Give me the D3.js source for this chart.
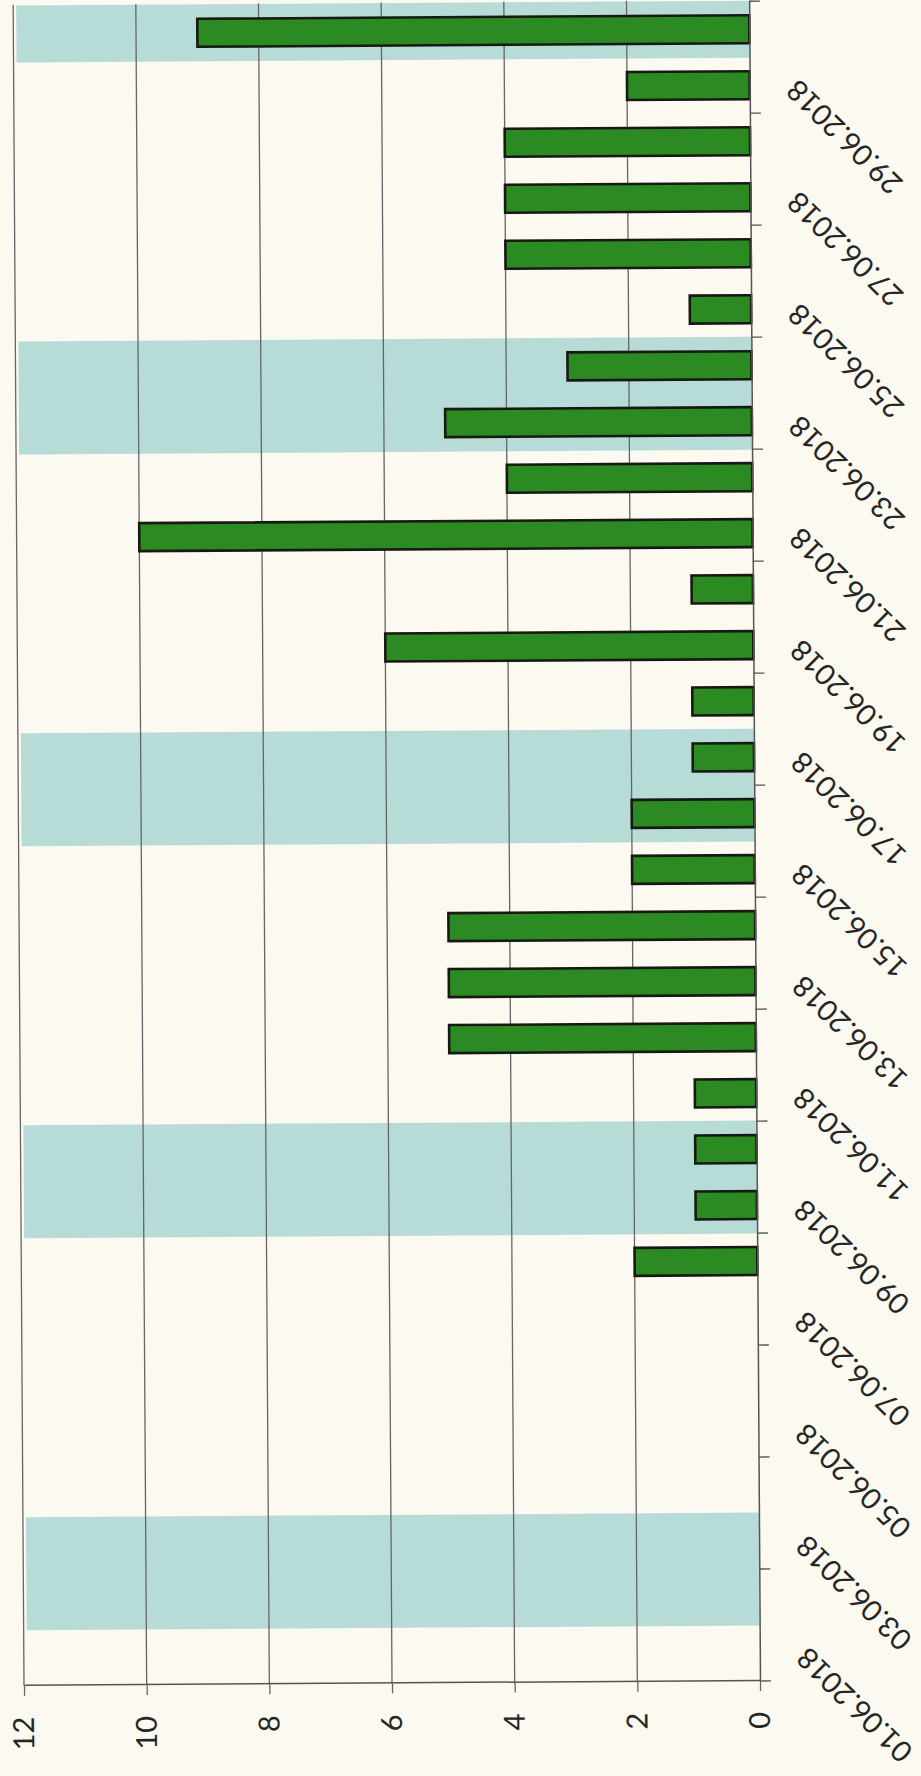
<!DOCTYPE html>
<html>
<head>
<meta charset="utf-8">
<script src="https://cdn.jsdelivr.net/npm/d3@7"></script>
<style>
  html, body { margin: 0; padding: 0; background: #fbf9f0; }
  svg { display: block; }
  text { font-family: Lato, "Open Sans", sans-serif; fill: #262626; }
</style>
</head>
<body>
<div id="chart"></div>
<script>
// June 2018, one column per day
const dates = [
  '01.06.2018', '02.06.2018', '03.06.2018', '04.06.2018', '05.06.2018',
  '06.06.2018', '07.06.2018', '08.06.2018', '09.06.2018', '10.06.2018',
  '11.06.2018', '12.06.2018', '13.06.2018', '14.06.2018', '15.06.2018',
  '16.06.2018', '17.06.2018', '18.06.2018', '19.06.2018', '20.06.2018',
  '21.06.2018', '22.06.2018', '23.06.2018', '24.06.2018', '25.06.2018',
  '26.06.2018', '27.06.2018', '28.06.2018', '29.06.2018', '30.06.2018'
];
const values = [0, 0, 0, 0, 0, 0, 0, 2, 1, 1, 1, 5, 5, 5, 2, 2, 1, 1, 6, 1, 10, 4, 5, 3, 1, 4, 4, 4, 2, 9];
// Saturdays and Sundays get a shaded band
const weekendDates = ['02.06.2018', '03.06.2018', '09.06.2018', '10.06.2018', '16.06.2018',
  '17.06.2018', '23.06.2018', '24.06.2018', '30.06.2018'];
const dateLabels = dates.filter((d, i) => i % 2 === 0);
const valueTicks = [0, 2, 4, 6, 8, 10, 12];

const W = 921, H = 1776;

const svg = d3.select('#chart')
  .append('svg')
  .attr('width', W)
  .attr('height', H);

// chart is drawn upright, then turned a quarter (the scan is also a bit tilted)
const g = svg.append('g')
  .attr('transform', `rotate(-0.37, 760, 1681) translate(0, ${H}) rotate(-90)`);

const x = d3.scaleBand()
  .domain(dates)
  .range([95, 1774.8])
  .paddingInner(0.5)
  .paddingOuter(0.25);

const xCell = d3.scaleBand()
  .domain(dates)
  .range([95, 1774.8]);

const y = d3.scaleLinear()
  .domain([0, 12])
  .range([760, 24]);

// weekend bands (slight overlap so Sat+Sun join without a seam)
g.selectAll('.weekend')
  .data(weekendDates)
  .enter()
  .append('rect')
  .attr('class', 'weekend')
  .attr('x', d => xCell(d) - 0.5)
  .attr('width', xCell.bandwidth() + 1)
  .attr('y', y(12) + 3)
  .attr('height', y(0) - y(12) - 3)
  .attr('fill', '#b7dcd8');

// gridlines
g.selectAll('.grid')
  .data(valueTicks.filter(v => v > 0))
  .enter()
  .append('line')
  .attr('class', 'grid')
  .attr('x1', 95)
  .attr('x2', 1776)
  .attr('y1', d => y(d))
  .attr('y2', d => y(d))
  .attr('stroke', '#666')
  .attr('stroke-width', 1.3);

// bars
g.selectAll('.bar')
  .data(dates.map((d, i) => ({ date: d, value: values[i] })).filter(d => d.value > 0))
  .enter()
  .append('rect')
  .attr('class', 'bar')
  .attr('x', d => x(d.date))
  .attr('width', x.bandwidth())
  .attr('y', d => y(d.value))
  .attr('height', d => y(0) - y(d.value))
  .attr('fill', '#2b8a21')
  .attr('stroke', '#171a12')
  .attr('stroke-width', 2.6);

// value axis (ends up along the bottom)
const yAxis = g.append('g')
  .attr('transform', 'translate(95, 0)')
  .call(d3.axisLeft(y).tickValues(valueTicks).tickSize(10).tickSizeOuter(0).tickPadding(21));
yAxis.select('.domain').attr('stroke', '#555').attr('stroke-width', 1.5);
yAxis.selectAll('.tick line').attr('stroke', '#666').attr('stroke-width', 1.3);
yAxis.selectAll('text').style('font-size', '29px').attr('fill', '#262626');

// category axis (ends up along the right side)
const xAxis = g.append('g')
  .attr('transform', `translate(0, ${y(0)})`)
  .call(d3.axisBottom(x).tickValues(dateLabels).tickSize(0).tickSizeOuter(0));
xAxis.select('.domain').attr('stroke', '#555').attr('stroke-width', 1.5);
xAxis.selectAll('text')
  .style('font-size', '29px')
  .attr('fill', '#262626')
  .attr('text-anchor', 'end')
  .attr('x', 0)
  .attr('y', 0)
  .attr('dy', '0.35em')
  .attr('transform', 'translate(0, 42) rotate(-45)');

// tick marks sit between every second pair of days
const boundaries = dateLabels.map(d => xCell(d)).concat([xCell.range()[1]]);
xAxis.selectAll('.sep')
  .data(boundaries)
  .enter()
  .append('line')
  .attr('class', 'sep')
  .attr('x1', d => d)
  .attr('x2', d => d)
  .attr('y1', 0)
  .attr('y2', 11)
  .attr('stroke', '#555')
  .attr('stroke-width', 1.3);
</script>
</body>
</html>
